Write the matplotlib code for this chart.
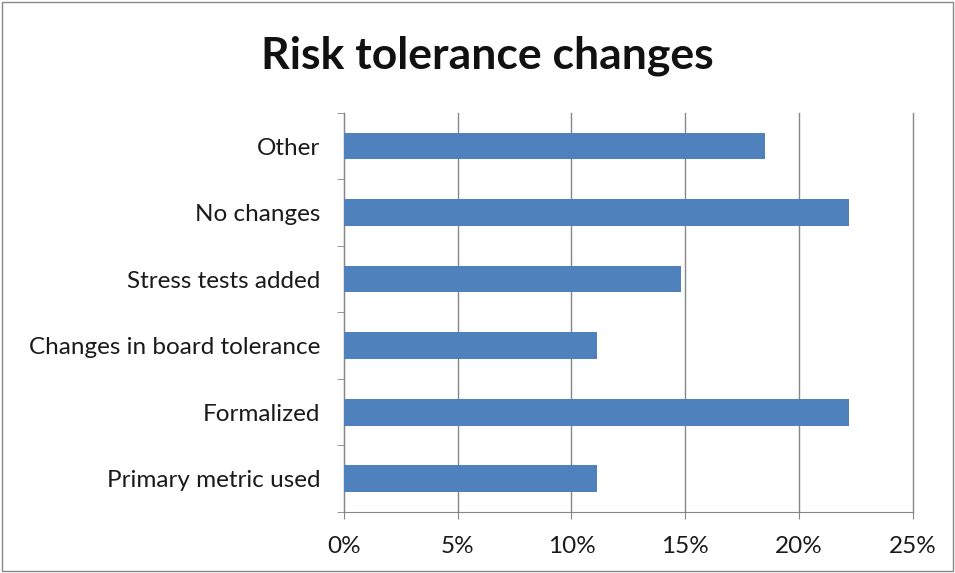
import matplotlib.pyplot as plt
from matplotlib.ticker import PercentFormatter, FixedLocator
from matplotlib.patches import Rectangle

plt.rcParams['font.family'] = ['Lato', 'DejaVu Sans']

categories = ['Primary metric used', 'Formalized', 'Changes in board tolerance',
              'Stress tests added', 'No changes', 'Other']
values = [11.1, 22.2, 11.1, 14.8, 22.2, 18.5]
x_ticks = [0, 5, 10, 15, 20, 25]

fig = plt.figure(figsize=(9.55, 5.73), dpi=100)
ax = fig.add_axes([0.360, 0.1065, 0.596, 0.6965])

ypos = list(range(len(categories)))
ax.barh(ypos, values, height=0.4, color='#4F81BD', zorder=3)

ax.set_xlim(0, 25)
ax.set_ylim(-0.5, len(categories) - 0.5)
ax.set_xticks(x_ticks)
ax.xaxis.set_major_formatter(PercentFormatter(decimals=0))
ax.set_yticks(ypos)
ax.set_yticklabels(categories)
ax.yaxis.set_minor_locator(FixedLocator([i - 0.5 for i in range(len(categories) + 1)]))

ax.grid(axis='x', color='#868686', linewidth=1, zorder=0)
for line in ax.get_xgridlines():
    line.set_clip_on(False)
for s in ['top', 'right']:
    ax.spines[s].set_visible(False)
for s in ['left', 'bottom']:
    ax.spines[s].set_color('#868686')
ax.tick_params(axis='y', which='major', length=0, pad=17, labelsize=17.5, colors='#1a1a1a')
ax.tick_params(axis='y', which='minor', length=5, color='#868686')
ax.tick_params(axis='x', which='major', length=5, color='#868686', labelsize=17.5,
               pad=12, labelcolor='#1a1a1a')

fig.text(0.51, 0.902, 'Risk tolerance changes', ha='center', va='center',
         fontsize=32, fontweight='bold', color='#111111')

fig.patches.append(Rectangle((0.002, 0.003), 0.996, 0.994, transform=fig.transFigure,
                             fill=False, edgecolor='#888888', linewidth=1))

fig.savefig('out.png', dpi=100)
